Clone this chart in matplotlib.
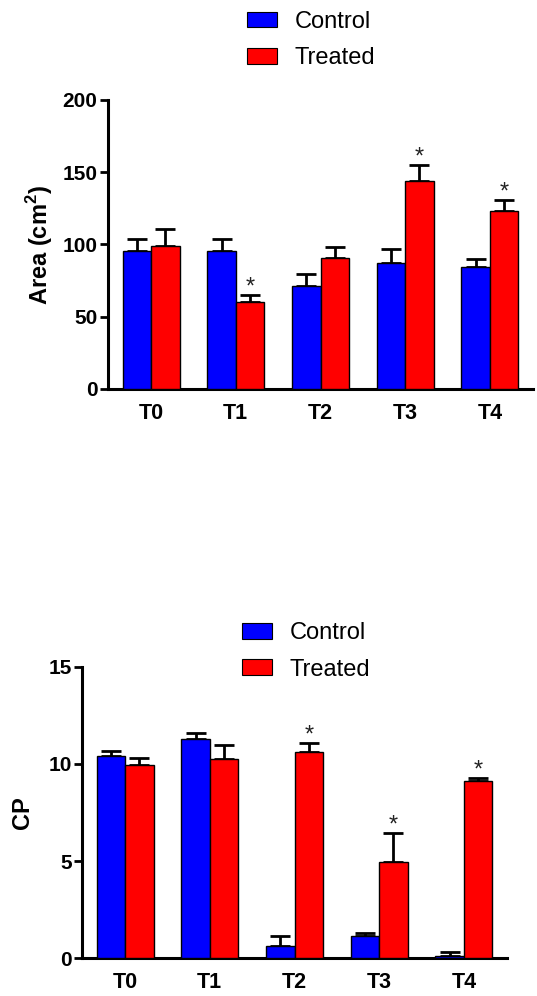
import matplotlib
matplotlib.use("Agg")
import matplotlib.pyplot as plt
import numpy as np

plt.rcParams['font.family'] = ['Liberation Sans', 'DejaVu Sans']
plt.rcParams['mathtext.fontset'] = 'custom'
plt.rcParams['mathtext.rm'] = 'Liberation Sans'
plt.rcParams['mathtext.bf'] = 'Liberation Sans:bold'

# ---------------- data ----------------
categories = ["T0", "T1", "T2", "T3", "T4"]
series_names = ["Control", "Treated"]

area_control = [95.7, 95.7, 71.5, 87.2, 84.6]
area_control_err = [7.9, 7.9, 8.1, 9.7, 5.6]
area_treated = [99.2, 60.4, 90.4, 143.9, 123.2]
area_treated_err = [11.3, 4.9, 8.1, 11.3, 7.6]
area_sig = [False, True, False, True, True]
area_ticks = [0, 50, 100, 150, 200]

cp_control = [10.42, 11.27, 0.63, 1.13, 0.12]
cp_control_err = [0.24, 0.34, 0.52, 0.19, 0.19]
cp_treated = [9.94, 10.25, 10.60, 4.94, 9.12]
cp_treated_err = [0.36, 0.71, 0.49, 1.49, 0.17]
cp_sig = [False, False, True, True, True]
cp_ticks = [0, 5, 10, 15]

BLUE = "#0000ff"
RED = "#ff0000"

W, H = 537, 996
fig = plt.figure(figsize=(W / 100, H / 100), dpi=100)

def px_axes(x0, x1, ytop, ybot):
    return fig.add_axes([x0 / W, 1 - ybot / H, (x1 - x0) / W, (ybot - ytop) / H])

def draw(ax, ctrl, ctrl_err, trt, trt_err, sig, ticks, ylabel, label_x, legend_xy):
    x = np.arange(len(categories))
    bw = 0.336
    b1 = ax.bar(x - bw / 2, ctrl, bw, color=BLUE, edgecolor="black", linewidth=1.0,
                label=series_names[0], zorder=3)
    b2 = ax.bar(x + bw / 2, trt, bw, color=RED, edgecolor="black", linewidth=1.0,
                label=series_names[1], zorder=3)
    zeros = np.zeros(len(x))
    ax.errorbar(x - bw / 2, ctrl, yerr=[zeros, ctrl_err], fmt="none", ecolor="black",
                elinewidth=2.0, capsize=7, capthick=2.0, zorder=2)
    ax.errorbar(x + bw / 2, trt, yerr=[zeros, trt_err], fmt="none", ecolor="black",
                elinewidth=2.0, capsize=7, capthick=2.0, zorder=2)
    for i, s in enumerate(sig):
        if s:
            ax.annotate("*", xy=(x[i] + bw / 2, trt[i] + trt_err[i]), xytext=(0, 1),
                        textcoords="offset points", ha="center", va="baseline",
                        fontsize=17, color="#222222")
    ax.set_xlim(-0.508, len(x) - 1 + 0.508)
    ax.set_ylim(ticks[0], ticks[-1])
    ax.set_yticks(ticks)
    ax.set_xticks(x)
    ax.set_xticklabels(categories, fontsize=15.5, fontweight="bold")
    for lab in ax.get_yticklabels():
        lab.set_fontsize(15)
        lab.set_fontweight("bold")
    ax.tick_params(axis="x", length=0, pad=10)
    ax.tick_params(axis="y", length=6, width=2.0, pad=1.5, direction="out")
    for sp in ["top", "right"]:
        ax.spines[sp].set_visible(False)
    for sp in ["left", "bottom"]:
        ax.spines[sp].set_linewidth(2.2)
    ax.set_ylabel(ylabel, fontsize=17, fontweight="bold")
    ax.yaxis.set_label_coords(label_x, 0.5)
    leg = ax.legend(handles=[b1, b2], loc="center left",
                    bbox_to_anchor=(legend_xy[0] / W, 1 - legend_xy[1] / H),
                    bbox_transform=fig.transFigure, frameon=False, fontsize=17,
                    borderpad=0, borderaxespad=0, handlelength=1.27, handleheight=0.64,
                    handletextpad=0.75, labelspacing=0.6)
    for p in leg.get_patches():
        p.set_linewidth(0.8)

ax1 = px_axes(108, 533, 100, 389)
draw(ax1, area_control, area_control_err, area_treated, area_treated_err, area_sig,
     area_ticks, r"Area (cm$^\mathbf{2}$)", -0.125, (247, 40))

ax2 = px_axes(82, 507, 666.7, 958.3)
draw(ax2, cp_control, cp_control_err, cp_treated, cp_treated_err, cp_sig,
     cp_ticks, "CP", -0.113, (242, 651.5))

fig.savefig("out.png", dpi=100)
